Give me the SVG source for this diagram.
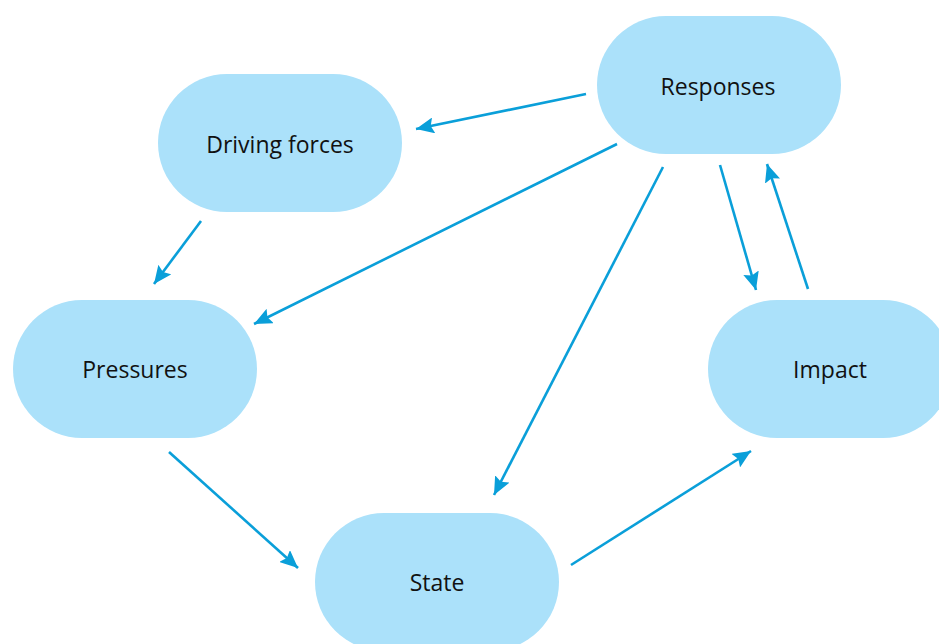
<svg xmlns="http://www.w3.org/2000/svg" width="939" height="644" viewBox="0 0 939 644">
<style>
.node{fill:#abe1fa;}
.lbl{font-family:"Open Sans","Liberation Sans",sans-serif;font-size:23px;fill:#111;text-anchor:middle;dominant-baseline:central;}
.conn{stroke:#0a9fd9;stroke-width:2.6;fill:none;marker-end:url(#ah);}
</style>
<defs>
<marker id="ah" markerUnits="userSpaceOnUse" markerWidth="20" markerHeight="16" refX="18" refY="8" orient="auto">
<path d="M0,0 L18,8 L0,16 L3,8 Z" fill="#0a9fd9"/>
</marker>
</defs>
<rect width="939" height="644" fill="#fff"/>
<g id="responses"><rect class="node" x="597" y="16" width="244" height="138" rx="69"/><text class="lbl" x="718" y="86">Responses</text></g>
<g id="driving-forces"><rect class="node" x="158" y="74" width="244" height="138" rx="69"/><text class="lbl" x="280" y="144">Driving forces</text></g>
<g id="pressures"><rect class="node" x="13" y="300" width="244" height="138" rx="69"/><text class="lbl" x="135" y="369">Pressures</text></g>
<g id="impact"><rect class="node" x="708" y="300" width="244" height="138" rx="69"/><text class="lbl" x="830" y="369">Impact</text></g>
<g id="state"><rect class="node" x="315" y="513" width="244" height="138" rx="69"/><text class="lbl" x="437" y="582">State</text></g>
<g id="connectors">
<line class="conn" x1="586" y1="94" x2="416" y2="129"/>
<line class="conn" x1="201" y1="221" x2="154" y2="284"/>
<line class="conn" x1="617" y1="144" x2="254" y2="324"/>
<line class="conn" x1="663" y1="167" x2="494" y2="495"/>
<line class="conn" x1="720" y1="165" x2="756" y2="290"/>
<line class="conn" x1="808" y1="289" x2="767" y2="164"/>
<line class="conn" x1="169" y1="452" x2="298" y2="568"/>
<line class="conn" x1="571" y1="565" x2="751" y2="451"/>
</g>
</svg>
